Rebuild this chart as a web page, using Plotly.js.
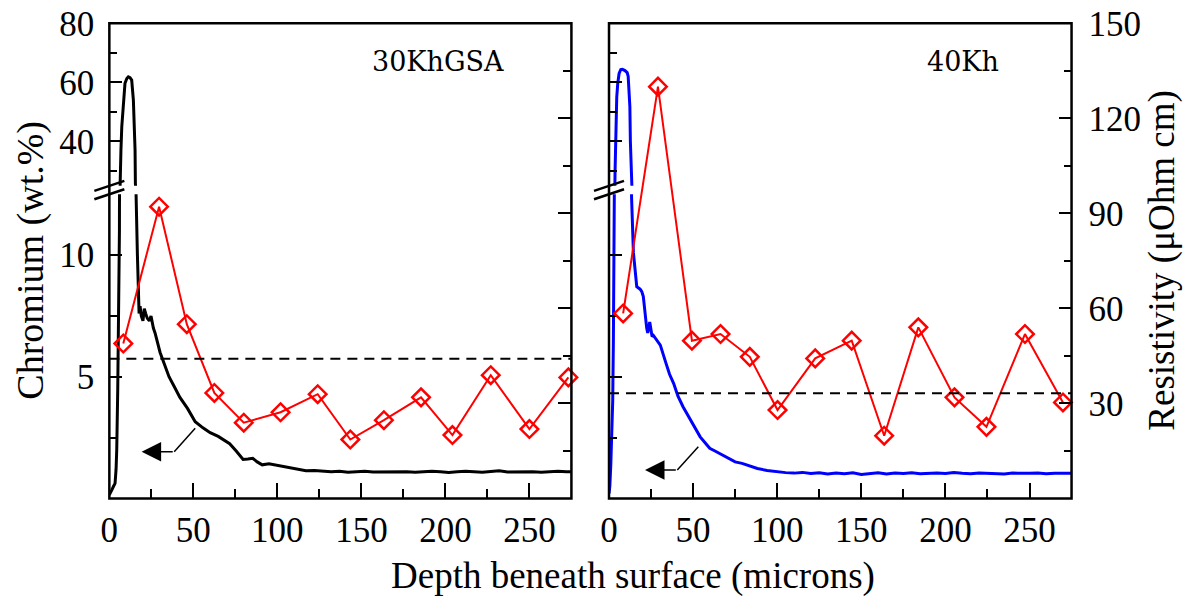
<!DOCTYPE html>
<html>
<head>
<meta charset="utf-8">
<script src="https://cdn.plot.ly/plotly-3.0.1.min.js"></script>
<style>html,body{margin:0;padding:0;background:#fff;}#chart{width:1186px;height:600px;}</style>
</head>
<body>
<div id="chart"></div>
<script>
// ---------- data ----------
const depthCrL = [0, 0.5, 1.5, 2.5, 3.4, 4.0, 4.4, 5.0, 5.5, 6.0, 6.2, 6.4, 6.9, 7.4, 8.3, 9.3, 10.4, 11.3, 12.3, 13.3, 14.3, 14.9, 15.3, 15.5, 15.9, 16.7, 17.3, 17.7, 18.3, 19.0, 20.0, 20.8, 21.6, 22.6, 23.8, 24.8, 26.2, 27.2, 30.2, 32.9, 35.5, 38.6, 42, 46.5, 51.1, 55.7, 60, 64.8, 68, 71.6, 75.5, 79.6, 82.5, 85.3, 88, 91, 95, 99, 104, 108, 112, 117, 122, 127, 132, 137, 142, 147, 152, 157, 162, 167, 172, 177, 182, 187, 192, 197, 202, 207, 212, 217, 222, 227, 232, 237, 242, 247, 252, 257, 262, 267, 272, 275];
const chromL   = [0.15, 0.2, 0.35, 0.5, 0.62, 1.2, 2.0, 4.5, 7.5, 11.0, 20, 30, 37.1, 45, 54, 59.7, 61.3, 61.9, 61.6, 60.8, 54, 45, 37.1, 25.8, 12.5, 10, 8.15, 7.6, 7.9, 7.5, 7.3, 7.8, 7.6, 7.4, 7.3, 7.5, 7.0, 6.8, 6.0, 5.5, 5.0, 4.6, 4.15, 3.7, 3.15, 2.9, 2.7, 2.55, 2.4, 2.25, 1.95, 1.6, 1.62, 1.65, 1.5, 1.38, 1.42, 1.37, 1.32, 1.24, 1.2, 1.14, 1.15, 1.12, 1.1, 1.12, 1.08, 1.1, 1.12, 1.09, 1.1, 1.08, 1.11, 1.1, 1.08, 1.1, 1.12, 1.1, 1.07, 1.1, 1.12, 1.1, 1.08, 1.11, 1.14, 1.09, 1.1, 1.12, 1.1, 1.08, 1.1, 1.12, 1.1, 1.1];

const depthCrR = [0, 0.5, 1.1, 1.7, 2.2, 2.6, 3.0, 3.2, 3.6, 4.0, 4.6, 5.2, 6.0, 7.0, 8.0, 9.5, 10.8, 11.4, 11.9, 12.4, 12.7, 13.0, 13.2, 13.4, 14.5, 15.5, 16.5, 18.5, 19.5, 20.4, 21.4, 22.4, 23.0, 24.2, 24.8, 25.6, 26.4, 28.4, 30.5, 33.9, 36, 38.4, 41, 44, 47, 49.7, 52, 54.2, 57, 59.9, 63, 67.8, 72, 75, 79.1, 83, 88.2, 94, 99.5, 105, 110, 115, 120, 125, 130, 135, 140, 145, 150, 155, 160, 165, 170, 175, 180, 185, 190, 195, 200, 205, 210, 215, 220, 225, 230, 235, 240, 245, 250, 255, 260, 265, 270, 275];
const chromR   = [0.2, 0.5, 1.45, 2.5, 4.0, 6.5, 9.5, 12.5, 30, 45, 55, 59.7, 63, 64.3, 64.4, 64, 63.3, 62, 56, 51.8, 40, 27, 20, 12.4, 10.1, 9.3, 8.7, 8.6, 8.5, 8.3, 7.6, 7.0, 6.8, 7.25, 7.0, 6.65, 6.7, 6.5, 6.3, 5.55, 5.1, 4.73, 4.2, 3.77, 3.4, 3.08, 2.8, 2.53, 2.3, 2.06, 1.95, 1.78, 1.62, 1.5, 1.44, 1.35, 1.23, 1.15, 1.09, 1.06, 1.04, 1.07, 1.02, 1.05, 1.0, 1.04, 1.01, 1.05, 0.98, 1.03, 1.05, 1.0, 1.04, 1.02, 1.05, 1.01, 1.03, 1.04, 1.02, 1.06, 1.03, 1.01, 1.04, 1.02, 1.03, 1.0, 1.04, 1.02, 1.03, 1.04, 1.01, 1.03, 1.02, 1.03];

const resDepthL = [8.3, 29.6, 46.1, 62.5, 80.0, 101.9, 124.0, 143.4, 163.4, 185.5, 204.2, 227.0, 250.0, 273.2];
const resL      = [48.9, 92.1, 55.0, 33.3, 23.9, 27.2, 32.9, 18.6, 24.7, 31.9, 20.0, 38.9, 21.9, 38.2];
const resDepthR = [8.4, 29.1, 49.3, 66.3, 83.7, 100.2, 122.6, 144.3, 163.6, 183.9, 205.4, 224.4, 247.3, 269.9];
const resR      = [58.4, 130.0, 49.8, 51.9, 44.7, 27.9, 44.2, 49.8, 19.8, 54.0, 31.9, 22.6, 51.9, 30.3];
const refResL = 44.1;
const refResR = 33.2;

const xTicks = [0, 50, 100, 150, 200, 250];
const xMinor = [25, 75, 125, 175, 225, 275];
const crLowTicks = [5, 10];
const crLowMinor = [2.5, 7.5];
const crUpTicks = [40, 60, 80];
const crUpMinor = [30, 50, 70];
const resTicks = [30, 60, 90, 120, 150];
const resMinor = [15, 45, 75, 105, 135];
const panelLabels = ['30KhGSA', '40Kh'];

// ---------- layout geometry ----------
const W = 1186, H = 600;
const xL = [0.0922, 0.4818], xR = [0.5135, 0.9035];
const yAll = [0.1693, 0.9612];
const yLow = [0.1693, 0.6762];
const yUp = [0.6903, 0.9612];
const FONT = 'Liberation Serif, Times New Roman, serif';

function xaxis(dom) {
  return {domain: dom, range: [0, 275], tickmode: 'array', tickvals: xTicks,
    ticks: 'inside', ticklen: 15, tickwidth: 2, tickcolor: '#000',
    minor: {tickmode: 'array', tickvals: xMinor, ticks: 'inside', ticklen: 9, tickwidth: 2, tickcolor: '#000'},
    showgrid: false, zeroline: false, showline: false,
    tickfont: {family: FONT, size: 35, color: '#000'}, ticklabelstandoff: 8, fixedrange: true};
}
function yaxis(dom, rng, tv, mv, anchor, side, labels) {
  return {domain: dom, range: rng, anchor: anchor, side: side, tickmode: 'array', tickvals: tv,
    ticks: 'inside', ticklen: 13, tickwidth: 2, tickcolor: '#000',
    minor: {tickmode: 'array', tickvals: mv, ticks: 'inside', ticklen: 8, tickwidth: 2, tickcolor: '#000'},
    showgrid: false, zeroline: false, showline: false, showticklabels: labels,
    tickfont: {family: FONT, size: 35, color: '#000'}, ticklabelstandoff: 14, fixedrange: true};
}

const traces = [];
// chromium left (lower + upper segments of the broken axis)
traces.push({x: depthCrL, y: chromL, xaxis: 'x', yaxis: 'y', mode: 'lines', line: {color: '#000', width: 3}, hoverinfo: 'skip'});
traces.push({x: depthCrL, y: chromL, xaxis: 'x', yaxis: 'y2', mode: 'lines', line: {color: '#000', width: 3}, hoverinfo: 'skip'});
// chromium right
traces.push({x: depthCrR, y: chromR, xaxis: 'x2', yaxis: 'y3', mode: 'lines', line: {color: '#0000ff', width: 3}, hoverinfo: 'skip'});
traces.push({x: depthCrR, y: chromR, xaxis: 'x2', yaxis: 'y4', mode: 'lines', line: {color: '#0000ff', width: 3}, hoverinfo: 'skip'});
// resistivity
const mk = {symbol: 'diamond-open', size: 13.5, color: '#ff0000', line: {color: '#ff0000', width: 2.5}};
traces.push({x: resDepthL, y: resL, xaxis: 'x', yaxis: 'y5', mode: 'lines+markers', line: {color: '#ff0000', width: 2}, marker: mk, cliponaxis: false});
traces.push({x: resDepthR, y: resR, xaxis: 'x2', yaxis: 'y6', mode: 'lines+markers', line: {color: '#ff0000', width: 2}, marker: mk, cliponaxis: false});

const shapes = [];
// dashed reference lines
shapes.push({type: 'line', xref: 'x domain', yref: 'y5', x0: 0, x1: 1, y0: refResL, y1: refResL, line: {color: '#000', width: 2, dash: '10px,7px'}});
shapes.push({type: 'line', xref: 'x2 domain', yref: 'y6', x0: 0, x1: 1, y0: refResR, y1: refResR, line: {color: '#000', width: 2, dash: '10px,7px'}});
// frames
shapes.push({type: 'rect', xref: 'x domain', yref: 'y5 domain', x0: 0, x1: 1, y0: 0, y1: 1, line: {color: '#000', width: 2.5}});
shapes.push({type: 'rect', xref: 'x2 domain', yref: 'y6 domain', x0: 0, x1: 1, y0: 0, y1: 1, line: {color: '#000', width: 2.5}});
// axis-break marks
[xL[0], xR[0]].forEach(function (sx) {
  const dx = 15 / W, dy = 5 / H;
  [yUp[0], yLow[1]].forEach(function (yy) {
    shapes.push({type: 'line', xref: 'paper', yref: 'paper', x0: sx - dx, x1: sx + dx, y0: yy - dy, y1: yy + dy, line: {color: '#000', width: 2.5}});
  });
});
// arrow leader diagonals
shapes.push({type: 'line', xref: 'x', yref: 'y', x0: 51.1, y0: 2.88, x1: 38.6, y1: 1.92, line: {color: '#000', width: 1.5}});
shapes.push({type: 'line', xref: 'x2', yref: 'y3', x0: 53.1, y0: 2.12, x1: 40.6, y1: 1.17, line: {color: '#000', width: 1.5}});

const annotations = [
  {xref: 'paper', yref: 'paper', x: 0.369, y: 0.897, xanchor: 'center', yanchor: 'middle', text: panelLabels[0], showarrow: false, font: {family: 'DejaVu Serif, serif', size: 27, color: '#000'}},
  {xref: 'paper', yref: 'paper', x: 0.812, y: 0.897, xanchor: 'center', yanchor: 'middle', text: panelLabels[1], showarrow: false, font: {family: 'DejaVu Serif, serif', size: 27, color: '#000'}},
  {xref: 'paper', yref: 'paper', x: 0.534, y: 0.04, xanchor: 'center', yanchor: 'middle', text: 'Depth beneath surface (microns)', showarrow: false, font: {family: FONT, size: 37, color: '#000'}},
  {xref: 'paper', yref: 'paper', x: 0.026, y: 0.567, xanchor: 'center', yanchor: 'middle', text: 'Chromium (wt.%)', textangle: -90, showarrow: false, font: {family: FONT, size: 38, color: '#000'}},
  {xref: 'paper', yref: 'paper', x: 0.9795, y: 0.565, xanchor: 'center', yanchor: 'middle', text: 'Resistivity (μOhm cm)', textangle: -90, showarrow: false, font: {family: FONT, size: 37, color: '#000'}},
  {xref: 'x', yref: 'y', x: 19.2, y: 1.92, axref: 'x', ayref: 'y', ax: 38.6, ay: 1.92, text: '', showarrow: true, arrowhead: 2, arrowsize: 2.6, arrowwidth: 1.5, arrowcolor: '#000'},
  {xref: 'x2', yref: 'y3', x: 21.4, y: 1.17, axref: 'x2', ayref: 'y3', ax: 40.6, ay: 1.17, text: '', showarrow: true, arrowhead: 2, arrowsize: 2.6, arrowwidth: 1.5, arrowcolor: '#000'}
];

const layout = {
  width: W, height: H, margin: {l: 0, r: 0, t: 0, b: 0},
  paper_bgcolor: '#fff', plot_bgcolor: 'rgba(0,0,0,0)', showlegend: false,
  xaxis: xaxis(xL), xaxis2: xaxis(xR),
  yaxis: yaxis(yLow, [0, 12.5], crLowTicks, crLowMinor, 'x', 'left', true),
  yaxis2: yaxis(yUp, [25, 80], crUpTicks, crUpMinor, 'x', 'left', true),
  yaxis3: yaxis(yLow, [0, 12.5], crLowTicks, crLowMinor, 'x2', 'left', false),
  yaxis4: yaxis(yUp, [25, 80], crUpTicks, crUpMinor, 'x2', 'left', false),
  yaxis5: yaxis(yAll, [0, 150], resTicks, resMinor, 'x', 'right', false),
  yaxis6: yaxis(yAll, [0, 150], resTicks, resMinor, 'x2', 'right', true),
  shapes: shapes, annotations: annotations
};
layout.yaxis6.ticklabelstandoff = 16;

Plotly.newPlot('chart', traces, layout, {staticPlot: true, displayModeBar: false});
</script>
</body>
</html>
